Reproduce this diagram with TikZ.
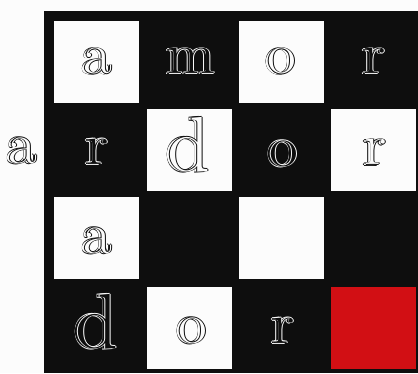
\documentclass[tikz,border=0pt]{standalone}
\usepackage{fontspec}
\setmainfont{Latin Modern Roman}
\definecolor{bk}{HTML}{0E0E0E}
\definecolor{wh}{HTML}{FCFCFC}
\definecolor{rd}{HTML}{D20F14}
\newcommand{\lay}[4]{\rlap{\kern#2\raisebox{#3}{\color{#1}#4}}}
\newcommand{\hol}[3]{\leavevmode
 \lay{#1}{-3.2pt}{-0.4pt}{#3}\lay{#1}{-2.0pt}{-0.4pt}{#3}\lay{#1}{-2.6pt}{0.2pt}{#3}\lay{#1}{-2.6pt}{-1.0pt}{#3}\lay{#2}{-2.6pt}{-0.4pt}{#3}%
 \lay{#1}{0.6pt}{0pt}{#3}\lay{#1}{-0.6pt}{0pt}{#3}\lay{#1}{0pt}{0.6pt}{#3}\lay{#1}{0pt}{-0.6pt}{#3}{\color{#2}#3}}
\tikzset{
 cell/.style={minimum width=85pt, minimum height=82pt, inner sep=0pt, outer sep=0pt, anchor=north west, draw=none},
 whitecell/.style={cell, fill=wh},
 redcell/.style={cell, fill=rd},
 letter/.style={anchor=base, inner sep=0pt, outer sep=0pt, font=\fontsize{58}{60}\selectfont, xscale=1.08},
 bigletter/.style={letter, font=\fontsize{78}{80}\selectfont},
}
\newcommand{\Lw}[1]{\hol{bk}{wh}{#1}}
\newcommand{\Lb}[1]{\hol{wh}{bk}{#1}}
\begin{document}
\begin{tikzpicture}[x=1pt,y=1pt]
\useasboundingbox (0,0) rectangle (418,373);
\fill[wh] (0,0) rectangle (418,373);
\fill[bk] (44,0) rectangle (418,362);
% white / red cells
\node[whitecell] (c11) at (54,352) {};
\node[whitecell] (c13) at (239,352) {};
\node[whitecell] (c22) at (147,264) {};
\node[whitecell] (c24) at (331,264) {};
\node[whitecell] (c31) at (54,176) {};
\node[whitecell] (c33) at (239,176) {};
\node[whitecell] (c42) at (147,86) {};
\node[redcell] (c44) at (331,86) {};
% letters row 1
\node[letter] (l11) at (98,299) {\Lw{a}};
\node[letter] (l12) at (192,299) {\Lb{m}};
\node[letter] (l13) at (282,299) {\Lw{o}};
\node[letter] (l14) at (375,299) {\Lb{r}};
% row 2
\node[letter] (l20) at (23,210) {\Lw{a}};
\node[letter] (l21) at (98,209) {\Lb{r}};
\node[bigletter] (l22) at (189,202) {\Lw{d}};
\node[letter] (l23) at (284,207) {\Lb{o}};
\node[letter] (l24) at (376,208) {\Lw{r}};
% row 3
\node[letter] (l31) at (98,120) {\Lw{a}};
% row 4
\node[bigletter] (l41) at (97,25) {\Lb{d}};
\node[letter] (l42) at (193,30) {\Lw{o}};
\node[letter] (l43) at (284,30) {\Lb{r}};
\end{tikzpicture}
\end{document}
